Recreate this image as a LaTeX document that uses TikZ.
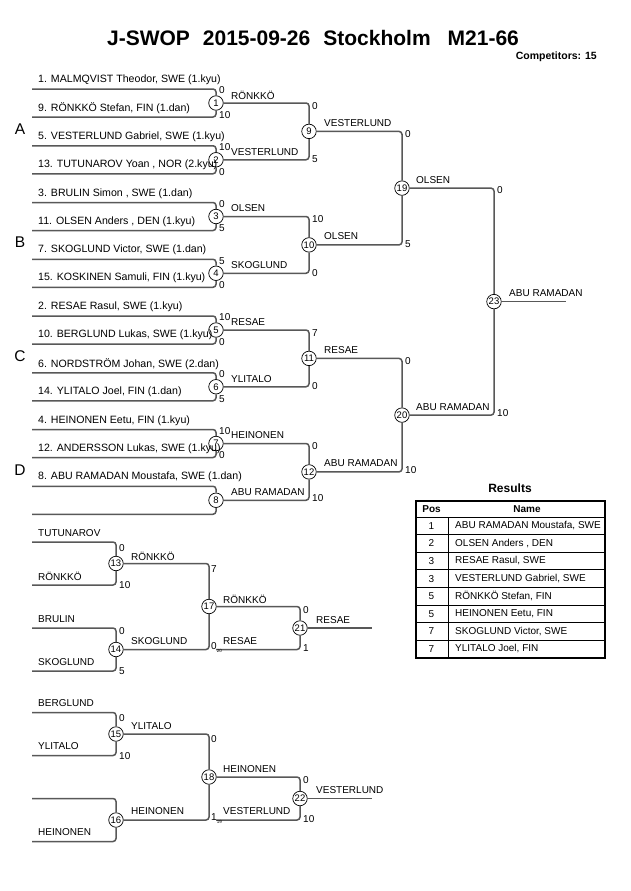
\documentclass[tikz,border=0pt]{standalone}
\usepackage{fontspec}
\setmainfont{Liberation Sans}
\definecolor{lineg}{RGB}{88,88,88}
\tikzset{
  brk/.style={draw=lineg, line width=1.5pt, rounded corners=3pt},
  mc/.style={circle, draw=black, fill=white, line width=0.7pt, inner sep=0pt, minimum size=14.5pt, font=\fontsize{9.5}{10}\selectfont},
  plab/.style={anchor=west, inner sep=0pt, font=\fontsize{10.6}{12}\selectfont},
  wlab/.style={anchor=west, inner sep=0pt, font=\fontsize{10}{12}\selectfont},
  sc/.style={anchor=west, inner sep=0pt, font=\fontsize{10}{12}\selectfont},
  grp/.style={inner sep=0pt, font=\fontsize{15.5}{16}\selectfont},
  tabtxt/.style={inner sep=0pt, font=\fontsize{10}{12}\selectfont},
  tabline/.style={draw=black, line width=0.8pt},
}
\newcommand{\subsc}[1]{\raisebox{-2.5pt}{\fontsize{4.5}{5}\selectfont #1}}
\begin{document}
\begin{tikzpicture}[x=1pt,y=-1pt]
\useasboundingbox (0,0) rectangle (630,891);
\fill[white] (0,0) rectangle (630,891);

% title
\node[inner sep=0pt, font=\fontsize{21}{24}\selectfont\bfseries] (title) at (313,38)
  {J-SWOP\hspace{13pt}2015-09-26\hspace{13pt}Stockholm\hspace{17pt}M21-66};
\node[anchor=east, inner sep=0pt, font=\fontsize{10.5}{12}\selectfont\bfseries] (comp) at (597,57) {Competitors: 15};

% group letters
\node[grp] (gA) at (20,129) {A};
\node[grp] (gB) at (20,242) {B};
\node[grp] (gC) at (20,356) {C};
\node[grp] (gD) at (20,470) {D};

% ---------- main bracket: match circles ----------
\node[mc] (m1) at (216,103) {1};
\node[mc] (m2) at (216,159.75) {2};
\node[mc] (m3) at (216,216.5) {3};
\node[mc] (m4) at (216,273.25) {4};
\node[mc] (m5) at (216,330) {5};
\node[mc] (m6) at (216,386.75) {6};
\node[mc] (m7) at (216,443.5) {7};
\node[mc] (m8) at (216,500.25) {8};
\node[mc] (m9) at (309,131.4) {9};
\node[mc] (m10) at (309,244.9) {10};
\node[mc] (m11) at (309,358.4) {11};
\node[mc] (m12) at (309,471.9) {12};
\node[mc] (m19) at (402,188.1) {19};
\node[mc] (m20) at (402,415.1) {20};
\node[mc] (m23) at (494,301.6) {23};

% player line starts
\coordinate (p1) at (32,89);      \coordinate (p9) at (32,117);
\coordinate (p5) at (32,145.75);  \coordinate (p13) at (32,173.75);
\coordinate (p3) at (32,202.5);   \coordinate (p11) at (32,230.5);
\coordinate (p7) at (32,259.25);  \coordinate (p15) at (32,287.25);
\coordinate (p2) at (32,316);     \coordinate (p10) at (32,344);
\coordinate (p6) at (32,372.75);  \coordinate (p14) at (32,400.75);
\coordinate (p4) at (32,429.5);   \coordinate (p12) at (32,457.5);
\coordinate (p8) at (32,486.25);  \coordinate (pbye) at (32,514.25);
\coordinate (f23) at (566,301.6);

% round 1 lines
\draw[brk] (p1) -| (m1.north);  \draw[brk] (p9) -| (m1.south);
\draw[brk] (p5) -| (m2.north);  \draw[brk] (p13) -| (m2.south);
\draw[brk] (p3) -| (m3.north);  \draw[brk] (p11) -| (m3.south);
\draw[brk] (p7) -| (m4.north);  \draw[brk] (p15) -| (m4.south);
\draw[brk] (p2) -| (m5.north);  \draw[brk] (p10) -| (m5.south);
\draw[brk] (p6) -| (m6.north);  \draw[brk] (p14) -| (m6.south);
\draw[brk] (p4) -| (m7.north);  \draw[brk] (p12) -| (m7.south);
\draw[brk] (p8) -| (m8.north);  \draw[brk] (pbye) -| (m8.south);
% round 2
\draw[brk] (m1.east) -| (m9.north);   \draw[brk] (m2.east) -| (m9.south);
\draw[brk] (m3.east) -| (m10.north);  \draw[brk] (m4.east) -| (m10.south);
\draw[brk] (m5.east) -| (m11.north);  \draw[brk] (m6.east) -| (m11.south);
\draw[brk] (m7.east) -| (m12.north);  \draw[brk] (m8.east) -| (m12.south);
% round 3
\draw[brk] (m9.east) -| (m19.north);  \draw[brk] (m10.east) -| (m19.south);
\draw[brk] (m11.east) -| (m20.north); \draw[brk] (m12.east) -| (m20.south);
% final
\draw[brk] (m19.east) -| (m23.north); \draw[brk] (m20.east) -| (m23.south);
\draw[brk] (m23.east) -- (f23);

% player labels
\node[plab] (l1) at (38,80) {1. MALMQVIST Theodor, SWE (1.kyu)};
\node[plab] (l9) at (38,108) {9. RÖNKKÖ Stefan, FIN (1.dan)};
\node[plab] (l5) at (38,136.75) {5. VESTERLUND Gabriel, SWE (1.kyu)};
\node[plab] (l13) at (38,164.75) {13. TUTUNAROV Yoan , NOR (2.kyu)};
\node[plab] (l3) at (38,193.5) {3. BRULIN Simon , SWE (1.dan)};
\node[plab] (l11) at (38,221.5) {11. OLSEN Anders , DEN (1.kyu)};
\node[plab] (l7) at (38,250.25) {7. SKOGLUND Victor, SWE (1.dan)};
\node[plab] (l15) at (38,278.25) {15. KOSKINEN Samuli, FIN (1.kyu)};
\node[plab] (l2) at (38,307) {2. RESAE Rasul, SWE (1.kyu)};
\node[plab] (l10) at (38,335) {10. BERGLUND Lukas, SWE (1.kyu)};
\node[plab] (l6) at (38,363.75) {6. NORDSTRÖM Johan, SWE (2.dan)};
\node[plab] (l14) at (38,391.75) {14. YLITALO Joel, FIN (1.dan)};
\node[plab] (l4) at (38,420.5) {4. HEINONEN Eetu, FIN (1.kyu)};
\node[plab] (l12) at (38,448.5) {12. ANDERSSON Lukas, SWE (1.kyu)};
\node[plab] (l8) at (38,477.25) {8. ABU RAMADAN Moustafa, SWE (1.dan)};

% round 1 scores
\node[sc] (s1a) at (219,90.5) {0};    \node[sc] (s1b) at (219,115) {10};
\node[sc] (s2a) at (219,147.25) {10}; \node[sc] (s2b) at (219,171.75) {0};
\node[sc] (s3a) at (219,204) {0};     \node[sc] (s3b) at (219,228.5) {5};
\node[sc] (s4a) at (219,260.75) {5};  \node[sc] (s4b) at (219,285.25) {0};
\node[sc] (s5a) at (219,317.5) {10};  \node[sc] (s5b) at (219,342) {0};
\node[sc] (s6a) at (219,374.25) {0};  \node[sc] (s6b) at (219,398.75) {5};
\node[sc] (s7a) at (219,431) {10};    \node[sc] (s7b) at (219,455.5) {0};
% round 2 scores
\node[sc] (s9a) at (312,106.3) {0};   \node[sc] (s9b) at (312,159.5) {5};
\node[sc] (s10a) at (312,219.5) {10}; \node[sc] (s10b) at (312,273) {0};
\node[sc] (s11a) at (312,333) {7};    \node[sc] (s11b) at (312,386.5) {0};
\node[sc] (s12a) at (312,446.5) {0};  \node[sc] (s12b) at (312,498.5) {10};
% round 3 scores
\node[sc] (s19a) at (405,134.5) {0};  \node[sc] (s19b) at (405,244) {5};
\node[sc] (s20a) at (405,361.5) {0};  \node[sc] (s20b) at (405,470) {10};
% final scores
\node[sc] (s23a) at (497,190.5) {0};  \node[sc] (s23b) at (497,413.5) {10};

% winner names
\node[wlab] (w1) at (231,95) {RÖNKKÖ};
\node[wlab] (w2) at (231,151.75) {VESTERLUND};
\node[wlab] (w3) at (231,208.5) {OLSEN};
\node[wlab] (w4) at (231,265.25) {SKOGLUND};
\node[wlab] (w5) at (231,322) {RESAE};
\node[wlab] (w6) at (231,378.75) {YLITALO};
\node[wlab] (w7) at (231,435.5) {HEINONEN};
\node[wlab] (w8) at (231,492.25) {ABU RAMADAN};
\node[wlab] (w9) at (324,123) {VESTERLUND};
\node[wlab] (w10) at (324,236.5) {OLSEN};
\node[wlab] (w11) at (324,350) {RESAE};
\node[wlab] (w12) at (324,463.5) {ABU RAMADAN};
\node[wlab] (w19) at (416,180) {OLSEN};
\node[wlab] (w20) at (416,407) {ABU RAMADAN};
\node[wlab] (w23) at (509,293) {ABU RAMADAN};

% ---------- repechage 1 ----------
\node[mc] (m13) at (116,563.5) {13};
\node[mc] (m14) at (116,649.5) {14};
\node[mc] (m17) at (209,606.5) {17};
\node[mc] (m21) at (300,628) {21};
\coordinate (ra) at (32,542);
\coordinate (rb) at (32,585);
\coordinate (rc) at (32,628);
\coordinate (rd) at (32,671);
\coordinate (rs) at (216,649.5);
\coordinate (f21) at (372,628);
\draw[brk] (ra) -| (m13.north); \draw[brk] (rb) -| (m13.south);
\draw[brk] (rc) -| (m14.north); \draw[brk] (rd) -| (m14.south);
\draw[brk] (m13.east) -| (m17.north); \draw[brk] (m14.east) -| (m17.south);
\draw[brk] (m17.east) -| (m21.north); \draw[brk] (rs) -| (m21.south);
\draw[brk] (m21.east) -- (f21);
\node[wlab] (ra-l) at (38,533) {TUTUNAROV};
\node[wlab] (rb-l) at (38,576) {RÖNKKÖ};
\node[wlab] (rc-l) at (38,619) {BRULIN};
\node[wlab] (rd-l) at (38,662) {SKOGLUND};
\node[sc] (s13a) at (119,548) {0};   \node[sc] (s13b) at (119,585) {10};
\node[sc] (s14a) at (119,631) {0};   \node[sc] (s14b) at (119,671.5) {5};
\node[sc] (s17a) at (211,569) {7};
\node[sc] (s17b) at (211,647.5) {0\subsc{20}};
\node[sc] (s21a) at (303,610) {0};   \node[sc] (s21b) at (303,648) {1};
\node[wlab] (w13) at (131,556.5) {RÖNKKÖ};
\node[wlab] (w14) at (131,641.5) {SKOGLUND};
\node[wlab] (w17) at (223,599) {RÖNKKÖ};
\node[wlab] (wrs) at (223,641) {RESAE};
\node[wlab] (w21) at (316,620) {RESAE};

% ---------- repechage 2 ----------
\node[mc] (m15) at (116,734) {15};
\node[mc] (m16) at (116,820) {16};
\node[mc] (m18) at (209,777) {18};
\node[mc] (m22) at (300,798.5) {22};
\coordinate (qa) at (32,712.5);
\coordinate (qb) at (32,755.5);
\coordinate (qc) at (32,798.5);
\coordinate (qd) at (32,841.5);
\coordinate (qs) at (216,820);
\coordinate (f22) at (372,798.5);
\draw[brk] (qa) -| (m15.north); \draw[brk] (qb) -| (m15.south);
\draw[brk] (qc) -| (m16.north); \draw[brk] (qd) -| (m16.south);
\draw[brk] (m15.east) -| (m18.north); \draw[brk] (m16.east) -| (m18.south);
\draw[brk] (m18.east) -| (m22.north); \draw[brk] (qs) -| (m22.south);
\draw[brk] (m22.east) -- (f22);
\node[wlab] (qa-l) at (38,703.5) {BERGLUND};
\node[wlab] (qb-l) at (38,746.5) {YLITALO};
\node[wlab] (qd-l) at (38,832.5) {HEINONEN};
\node[sc] (s15a) at (119,718.5) {0};  \node[sc] (s15b) at (119,756.5) {10};
\node[sc] (s18a) at (211,739.5) {0};
\node[sc] (s18b) at (211,818.5) {1\subsc{19}};
\node[sc] (s22a) at (303,780.5) {0};  \node[sc] (s22b) at (303,819) {10};
\node[wlab] (w15) at (131,726.5) {YLITALO};
\node[wlab] (w16) at (131,811.5) {HEINONEN};
\node[wlab] (w18) at (223,769.5) {HEINONEN};
\node[wlab] (wqs) at (223,811.5) {VESTERLUND};
\node[wlab] (w22) at (316,790) {VESTERLUND};

% ---------- results table ----------
\node[inner sep=0pt, font=\fontsize{12}{14}\selectfont\bfseries] (restitle) at (510,488.5) {Results};
\node[tabtxt, font=\fontsize{10}{12}\selectfont\bfseries] (hpos) at (431.5,509) {Pos};
\node[tabtxt, font=\fontsize{10}{12}\selectfont\bfseries] (hname) at (527,509) {Name};
\draw[tabline] (416,517) -- (605,517);
\draw[tabline] (448,517) -- (448,657.8);
\foreach \p/\n [count=\k] in {1/{ABU RAMADAN Moustafa, SWE}, 2/{OLSEN Anders , DEN}, 3/{RESAE Rasul, SWE}, 3/{VESTERLUND Gabriel, SWE}, 5/{RÖNKKÖ Stefan, FIN}, 5/{HEINONEN Eetu, FIN}, 7/{SKOGLUND Victor, SWE}, 7/{YLITALO Joel, FIN}} {
  \node[tabtxt] (pos\k) at (431.5,{517+17.6*(\k-0.5)}) {\p};
  \node[tabtxt, anchor=west] (nm\k) at (455,{517+17.6*(\k-0.5)}) {\n};
  \draw[tabline] (416,{517+17.6*\k}) -- (605,{517+17.6*\k});
}
\draw[draw=black, line width=1.6pt] (416,501) rectangle (605,657.8);
\end{tikzpicture}
\end{document}
